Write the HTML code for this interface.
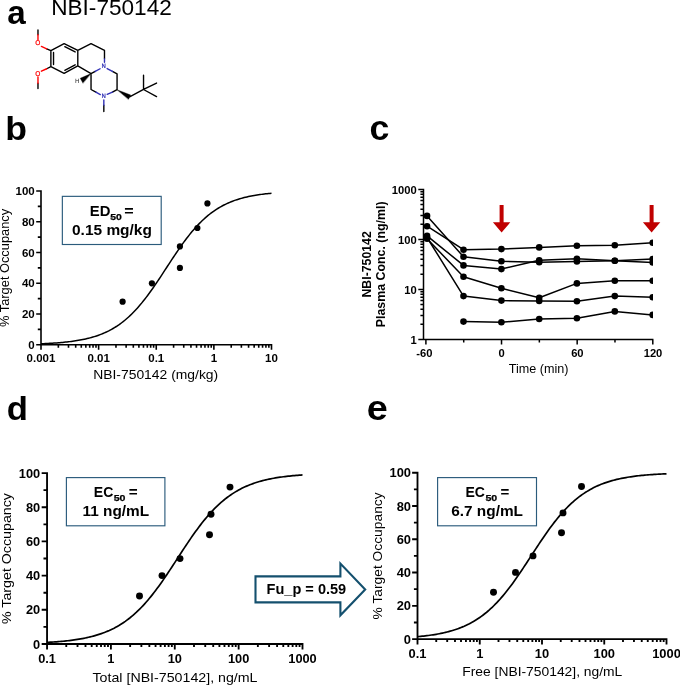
<!DOCTYPE html>
<html lang="en"><head><meta charset="utf-8"><title>NBI-750142 target occupancy</title>
<style>html,body{margin:0;padding:0;background:#fff}body{width:680px;height:685px;overflow:hidden}svg{display:block}</style>
</head><body>
<svg width="680" height="685" viewBox="0 0 680 685" font-family="'Liberation Sans', Arial, sans-serif" fill="#000">
<rect width="680" height="685" fill="#fff"/>
<text transform="translate(7.25 23.8) scale(1.0 1)" font-weight="bold" font-size="33.2">a</text>
<text transform="translate(5.2 140.05) scale(1.06 1)" font-weight="bold" font-size="33.6">b</text>
<text transform="translate(369.4 139.6) scale(1.02 1)" font-weight="bold" font-size="35">c</text>
<text transform="translate(6.7 419.8) scale(1.02 1)" font-weight="bold" font-size="34">d</text>
<text transform="translate(366.7 419.65) scale(1.09 1)" font-weight="bold" font-size="34.7">e</text>
<text x="51.2" y="15.3" font-size="22.6">NBI-750142</text>
<g transform="translate(20 20) scale(0.2206)" stroke-linecap="round" stroke-linejoin="round" fill="none" stroke-width="6.3">
<path d="M81.5 45V67 M81.5 287V311 M121 131L140 139L200 107L262 138V208L200 242L140 211L121 221 M140 139V211 M152 147V202 M203 121L250 145 M203 228L250 203 M262 138L322 107L383 138V176 M262 208L322 243L341 233 M322 243V315L344 327 M419 327L440 316V244L419 233 M380 386V415 M497 348L560 315 M560 315V250 M560 315L619 286 M560 315L619 347" stroke="#000"/>
<path d="M97 120L121 131 M97 232L121 221 M81.5 67V90 M81.5 258V287" stroke="#f00"/>
<path d="M341 233L363 221 M395 220L419 233 M395 337L419 327 M364 338L344 327 M383 176V192 M380 362V386" stroke="#2f2fb5"/>
<path d="M440 316L502 340L492 359Z" fill="#000" stroke="#000" stroke-width="1.5"/>
<path d="M322 243L273 264L285 286Z" fill="#000" stroke="#000" stroke-width="1.5"/>
</g>
<g font-size="5.9" text-anchor="middle" font-family="'DejaVu Sans', sans-serif">
<text x="37.9" y="45.3" fill="#f00" stroke="#f00" stroke-width="0.2" font-size="6.5">O</text>
<text x="37.9" y="75.7" fill="#f00" stroke="#f00" stroke-width="0.2" font-size="6.5">O</text>
<text x="103.6" y="68.2" fill="#2f2fb5" stroke="#2f2fb5" stroke-width="0.2">N</text>
<text x="103.6" y="98" fill="#2f2fb5" stroke="#2f2fb5" stroke-width="0.2">N</text>
<text x="77.3" y="82.9" font-size="5.8" fill="#222">H</text>
</g>
<path d="M41 343.78L42.44 343.72L43.88 343.66L45.32 343.59L46.76 343.52L48.2 343.44L49.64 343.37L51.08 343.28L52.53 343.19L53.97 343.1L55.41 343L56.85 342.89L58.29 342.78L59.73 342.66L61.17 342.54L62.61 342.41L64.05 342.27L65.49 342.12L66.93 341.96L68.37 341.8L69.81 341.62L71.25 341.44L72.69 341.25L74.13 341.04L75.58 340.82L77.02 340.59L78.46 340.35L79.9 340.1L81.34 339.83L82.78 339.54L84.22 339.24L85.66 338.93L87.1 338.59L88.54 338.24L89.98 337.87L91.42 337.48L92.86 337.07L94.3 336.63L95.74 336.17L97.18 335.69L98.62 335.19L100.07 334.66L101.51 334.1L102.95 333.51L104.39 332.89L105.83 332.24L107.27 331.56L108.71 330.85L110.15 330.1L111.59 329.32L113.03 328.5L114.47 327.64L115.91 326.74L117.35 325.81L118.79 324.83L120.23 323.8L121.67 322.74L123.12 321.63L124.56 320.47L126 319.27L127.44 318.02L128.88 316.72L130.32 315.38L131.76 313.99L133.2 312.54L134.64 311.05L136.08 309.51L137.52 307.92L138.96 306.28L140.4 304.6L141.84 302.86L143.28 301.08L144.73 299.26L146.17 297.39L147.61 295.49L149.05 293.54L150.49 291.55L151.93 289.53L153.37 287.48L154.81 285.39L156.25 283.28L157.69 281.14L159.13 278.99L160.57 276.81L162.01 274.62L163.45 272.42L164.89 270.21L166.33 268L167.78 265.78L169.22 263.57L170.66 261.37L172.1 259.18L173.54 257L174.98 254.84L176.42 252.71L177.86 250.59L179.3 248.5L180.74 246.45L182.18 244.42L183.62 242.43L185.06 240.48L186.5 238.57L187.94 236.7L189.38 234.87L190.83 233.09L192.27 231.35L193.71 229.66L195.15 228.02L196.59 226.43L198.03 224.88L199.47 223.39L200.91 221.94L202.35 220.54L203.79 219.19L205.23 217.89L206.67 216.64L208.11 215.43L209.55 214.27L210.99 213.16L212.43 212.09L213.88 211.06L215.32 210.08L216.76 209.14L218.2 208.24L219.64 207.37L221.08 206.55L222.52 205.76L223.96 205.01L225.4 204.3L226.84 203.61L228.28 202.96L229.72 202.34L231.16 201.75L232.6 201.19L234.04 200.66L235.48 200.15L236.92 199.67L238.37 199.21L239.81 198.77L241.25 198.36L242.69 197.96L244.13 197.59L245.57 197.24L247.01 196.9L248.45 196.58L249.89 196.28L251.33 196L252.77 195.73L254.21 195.47L255.65 195.23L257.09 195L258.53 194.78L259.98 194.57L261.42 194.38L262.86 194.19L264.3 194.02L265.74 193.85L267.18 193.69L268.62 193.55L270.06 193.41L271.5 193.27" stroke="#000" stroke-width="1.5" fill="none" stroke-linejoin="round"/>
<path d="M41 190.2V345.6M40.2 344.8H272.3M41 344.8h-4.8M41 329.42h-3.2M41 314.04h-4.8M41 298.66h-3.2M41 283.28h-4.8M41 267.9h-3.2M41 252.52h-4.8M41 237.14h-3.2M41 221.76h-4.8M41 206.38h-3.2M41 191h-4.8M41 344.8v4.9M58.35 344.8v2.9M68.49 344.8v2.9M75.69 344.8v2.9M81.28 344.8v2.9M85.84 344.8v2.9M89.7 344.8v2.9M93.04 344.8v2.9M95.99 344.8v2.9M98.62 344.8v4.9M115.97 344.8v2.9M126.12 344.8v2.9M133.32 344.8v2.9M138.9 344.8v2.9M143.47 344.8v2.9M147.32 344.8v2.9M150.67 344.8v2.9M153.61 344.8v2.9M156.25 344.8v4.9M173.6 344.8v2.9M183.74 344.8v2.9M190.94 344.8v2.9M196.53 344.8v2.9M201.09 344.8v2.9M204.95 344.8v2.9M208.29 344.8v2.9M211.24 344.8v2.9M213.88 344.8v4.9M231.22 344.8v2.9M241.37 344.8v2.9M248.57 344.8v2.9M254.15 344.8v2.9M258.72 344.8v2.9M262.57 344.8v2.9M265.92 344.8v2.9M268.86 344.8v2.9M271.5 344.8v4.9" stroke="#000" stroke-width="1.6" fill="none"/>
<g font-weight="bold" font-size="11.5">
<text transform="translate(34.7 348.92) scale(1.0 1)" text-anchor="end">0</text>
<text transform="translate(34.7 318.16) scale(1.0 1)" text-anchor="end">20</text>
<text transform="translate(34.7 287.4) scale(1.0 1)" text-anchor="end">40</text>
<text transform="translate(34.7 256.64) scale(1.0 1)" text-anchor="end">60</text>
<text transform="translate(34.7 225.88) scale(1.0 1)" text-anchor="end">80</text>
<text transform="translate(34.7 195.12) scale(1.0 1)" text-anchor="end">100</text>
<text transform="translate(41 361.9) scale(1.0 1)" text-anchor="middle">0.001</text>
<text transform="translate(98.62 361.9) scale(1.0 1)" text-anchor="middle">0.01</text>
<text transform="translate(156.25 361.9) scale(1.0 1)" text-anchor="middle">0.1</text>
<text transform="translate(213.88 361.9) scale(1.0 1)" text-anchor="middle">1</text>
<text transform="translate(271.5 361.9) scale(1.0 1)" text-anchor="middle">10</text>
</g>
<text x="155.7" y="379.3" text-anchor="middle" font-size="13.6" textLength="125" lengthAdjust="spacingAndGlyphs">NBI-750142 (mg/kg)</text>
<text transform="translate(9.4 267.9) rotate(-90)" text-anchor="middle" font-size="12.6" textLength="118" lengthAdjust="spacingAndGlyphs">% Target Occupancy</text>
<circle cx="122.6" cy="301.7" r="3.1"/>
<circle cx="151.9" cy="283.3" r="3.1"/>
<circle cx="179.9" cy="246.4" r="3.1"/>
<circle cx="179.9" cy="267.9" r="3.1"/>
<circle cx="197.4" cy="228" r="3.1"/>
<circle cx="207.4" cy="203.4" r="3.1"/>
<rect x="62.35" y="196.35" width="98.85" height="48.15" fill="#fff" stroke="#2b5b7c" stroke-width="1.15"/>
<g font-weight="bold" font-size="14.5" lengthAdjust="spacingAndGlyphs">
<text x="89.8" y="215.7" textLength="20.6" lengthAdjust="spacingAndGlyphs">ED</text>
<text x="110.2" y="219.5" textLength="11.6" lengthAdjust="spacingAndGlyphs" font-size="9.6" stroke="#000" stroke-width="0.25">50</text>
<text x="124.3" y="215.7" textLength="9.4" lengthAdjust="spacingAndGlyphs">=</text>
<text x="72" y="234.8" textLength="79.9" lengthAdjust="spacingAndGlyphs">0.15 mg/kg</text>
</g>
<path d="M47.05 642.41L48.65 642.32L50.24 642.22L51.84 642.12L53.44 642.02L55.03 641.9L56.63 641.78L58.23 641.66L59.82 641.52L61.42 641.38L63.02 641.23L64.61 641.07L66.21 640.91L67.81 640.73L69.4 640.54L71 640.34L72.59 640.14L74.19 639.92L75.79 639.68L77.38 639.44L78.98 639.18L80.58 638.9L82.17 638.61L83.77 638.31L85.37 637.98L86.96 637.64L88.56 637.28L90.16 636.9L91.75 636.5L93.35 636.08L94.95 635.64L96.54 635.17L98.14 634.68L99.74 634.16L101.33 633.62L102.93 633.05L104.53 632.44L106.12 631.81L107.72 631.14L109.32 630.45L110.91 629.71L112.51 628.94L114.11 628.14L115.7 627.29L117.3 626.4L118.9 625.48L120.49 624.51L122.09 623.49L123.68 622.43L125.28 621.33L126.88 620.17L128.47 618.97L130.07 617.72L131.67 616.41L133.26 615.06L134.86 613.65L136.46 612.19L138.05 610.67L139.65 609.1L141.25 607.48L142.84 605.8L144.44 604.07L146.04 602.28L147.63 600.44L149.23 598.55L150.83 596.6L152.42 594.61L154.02 592.56L155.62 590.47L157.21 588.34L158.81 586.15L160.41 583.93L162 581.67L163.6 579.38L165.2 577.05L166.79 574.69L168.39 572.31L169.99 569.9L171.58 567.48L173.18 565.04L174.77 562.59L176.37 560.14L177.97 557.68L179.56 555.22L181.16 552.77L182.76 550.33L184.35 547.9L185.95 545.49L187.55 543.1L189.14 540.73L190.74 538.39L192.34 536.09L193.93 533.82L195.53 531.58L197.13 529.39L198.72 527.24L200.32 525.13L201.92 523.07L203.51 521.06L205.11 519.1L206.71 517.19L208.3 515.34L209.9 513.53L211.5 511.78L213.09 510.09L214.69 508.45L216.29 506.86L217.88 505.33L219.48 503.85L221.08 502.42L222.67 501.05L224.27 499.73L225.86 498.46L227.46 497.25L229.06 496.08L230.65 494.96L232.25 493.88L233.85 492.85L235.44 491.87L237.04 490.93L238.64 490.03L240.23 489.17L241.83 488.35L243.43 487.57L245.02 486.83L246.62 486.12L248.22 485.44L249.81 484.8L251.41 484.19L253.01 483.61L254.6 483.05L256.2 482.53L257.8 482.03L259.39 481.55L260.99 481.1L262.59 480.67L264.18 480.27L265.78 479.88L267.38 479.52L268.97 479.17L270.57 478.84L272.17 478.53L273.76 478.24L275.36 477.96L276.95 477.69L278.55 477.44L280.15 477.21L281.74 476.98L283.34 476.77L284.94 476.57L286.53 476.38L288.13 476.2L289.73 476.03L291.32 475.87L292.92 475.71L294.52 475.57L296.11 475.43L297.71 475.3L299.31 475.18L300.9 475.07L302.5 474.96" stroke="#000" stroke-width="1.7" fill="none" stroke-linejoin="round"/>
<path d="M47.05 472.18V644.88M46.12 643.95H303.43M47.05 643.95h-5.38M47.05 626.87h-3.58M47.05 609.78h-5.38M47.05 592.7h-3.58M47.05 575.61h-5.38M47.05 558.53h-3.58M47.05 541.44h-5.38M47.05 524.36h-3.58M47.05 507.27h-5.38M47.05 490.19h-3.58M47.05 473.1h-5.38M47.05 643.95v5.49M66.27 643.95v2.99M77.52 643.95v2.99M85.5 643.95v2.99M91.69 643.95v2.99M96.74 643.95v2.99M101.02 643.95v2.99M104.72 643.95v2.99M107.99 643.95v2.99M110.91 643.95v5.49M130.14 643.95v2.99M141.38 643.95v2.99M149.36 643.95v2.99M155.55 643.95v2.99M160.61 643.95v2.99M164.88 643.95v2.99M168.59 643.95v2.99M171.85 643.95v2.99M174.77 643.95v5.49M194 643.95v2.99M205.25 643.95v2.99M213.22 643.95v2.99M219.41 643.95v2.99M224.47 643.95v2.99M228.75 643.95v2.99M232.45 643.95v2.99M235.72 643.95v2.99M238.64 643.95v5.49M257.86 643.95v2.99M269.11 643.95v2.99M277.09 643.95v2.99M283.28 643.95v2.99M288.33 643.95v2.99M292.61 643.95v2.99M296.31 643.95v2.99M299.58 643.95v2.99M302.5 643.95v5.49" stroke="#000" stroke-width="1.85" fill="none"/>
<g font-weight="bold" font-size="12.8">
<text transform="translate(40.2 648.53) scale(1.0 1)" text-anchor="end">0</text>
<text transform="translate(40.2 614.36) scale(1.0 1)" text-anchor="end">20</text>
<text transform="translate(40.2 580.19) scale(1.0 1)" text-anchor="end">40</text>
<text transform="translate(40.2 546.02) scale(1.0 1)" text-anchor="end">60</text>
<text transform="translate(40.2 511.85) scale(1.0 1)" text-anchor="end">80</text>
<text transform="translate(40.2 477.68) scale(1.0 1)" text-anchor="end">100</text>
<text transform="translate(47.05 662.7) scale(1.0 1)" text-anchor="middle">0.1</text>
<text transform="translate(110.91 662.7) scale(1.0 1)" text-anchor="middle">1</text>
<text transform="translate(174.77 662.7) scale(1.0 1)" text-anchor="middle">10</text>
<text transform="translate(238.64 662.7) scale(1.0 1)" text-anchor="middle">100</text>
<text transform="translate(302.5 662.7) scale(1.0 1)" text-anchor="middle">1000</text>
</g>
<text x="175" y="681.5" text-anchor="middle" font-size="13.5" textLength="165" lengthAdjust="spacingAndGlyphs">Total [NBI-750142], ng/mL</text>
<text transform="translate(10.7 558.53) rotate(-90)" text-anchor="middle" font-size="13.5" textLength="131" lengthAdjust="spacingAndGlyphs">% Target Occupancy</text>
<circle cx="139.5" cy="596" r="3.47"/>
<circle cx="162" cy="575.6" r="3.47"/>
<circle cx="180" cy="558.6" r="3.47"/>
<circle cx="209.5" cy="534.8" r="3.47"/>
<circle cx="211" cy="514.3" r="3.47"/>
<circle cx="230" cy="487.1" r="3.47"/>
<rect x="66.4" y="477.6" width="98.5" height="48.2" fill="#fff" stroke="#2b5b7c" stroke-width="1.15"/>
<g font-weight="bold" font-size="14.5" lengthAdjust="spacingAndGlyphs">
<text x="93.8" y="496.7" textLength="19.5" lengthAdjust="spacingAndGlyphs">EC</text>
<text x="113.7" y="500.5" textLength="11.8" lengthAdjust="spacingAndGlyphs" font-size="9.6" stroke="#000" stroke-width="0.25">50</text>
<text x="128.7" y="496.7" textLength="8.9" lengthAdjust="spacingAndGlyphs">=</text>
<text x="82.5" y="515.7" textLength="66.6" lengthAdjust="spacingAndGlyphs">11 ng/mL</text>
</g>
<path d="M417.5 636.65L419.06 636.51L420.61 636.36L422.17 636.2L423.73 636.03L425.28 635.85L426.84 635.66L428.39 635.47L429.95 635.25L431.51 635.03L433.06 634.8L434.62 634.55L436.18 634.29L437.73 634.01L439.29 633.72L440.84 633.41L442.4 633.09L443.96 632.74L445.51 632.38L447.07 632L448.62 631.6L450.18 631.18L451.74 630.73L453.29 630.26L454.85 629.77L456.41 629.25L457.96 628.7L459.52 628.12L461.07 627.52L462.63 626.88L464.19 626.22L465.74 625.51L467.3 624.78L468.86 624.01L470.41 623.2L471.97 622.35L473.52 621.46L475.08 620.53L476.64 619.56L478.19 618.55L479.75 617.49L481.31 616.38L482.86 615.23L484.42 614.03L485.98 612.78L487.53 611.48L489.09 610.13L490.64 608.72L492.2 607.27L493.76 605.76L495.31 604.2L496.87 602.58L498.43 600.92L499.98 599.2L501.54 597.42L503.09 595.6L504.65 593.73L506.21 591.8L507.76 589.83L509.32 587.81L510.88 585.74L512.43 583.64L513.99 581.49L515.54 579.3L517.1 577.08L518.66 574.82L520.21 572.54L521.77 570.23L523.33 567.89L524.88 565.54L526.44 563.17L527.99 560.79L529.55 558.4L531.11 556L532.66 553.61L534.22 551.22L535.77 548.84L537.33 546.46L538.89 544.11L540.44 541.77L542 539.46L543.56 537.17L545.11 534.91L546.67 532.69L548.23 530.5L549.78 528.35L551.34 526.23L552.89 524.17L554.45 522.14L556.01 520.17L557.56 518.24L559.12 516.36L560.67 514.53L562.23 512.75L563.79 511.03L565.34 509.36L566.9 507.74L568.46 506.17L570.01 504.66L571.57 503.2L573.12 501.79L574.68 500.44L576.24 499.13L577.79 497.88L579.35 496.67L580.91 495.51L582.46 494.4L584.02 493.34L585.58 492.32L587.13 491.35L588.69 490.42L590.24 489.52L591.8 488.67L593.36 487.86L594.91 487.09L596.47 486.35L598.02 485.64L599.58 484.97L601.14 484.33L602.69 483.73L604.25 483.15L605.81 482.6L607.36 482.08L608.92 481.58L610.48 481.11L612.03 480.66L613.59 480.24L615.14 479.83L616.7 479.45L618.26 479.09L619.81 478.74L621.37 478.42L622.92 478.11L624.48 477.81L626.04 477.54L627.59 477.27L629.15 477.02L630.71 476.79L632.26 476.56L633.82 476.35L635.38 476.15L636.93 475.96L638.49 475.78L640.04 475.61L641.6 475.45L643.16 475.3L644.71 475.16L646.27 475.02L647.83 474.9L649.38 474.77L650.94 474.66L652.49 474.55L654.05 474.45L655.61 474.35L657.16 474.26L658.72 474.17L660.27 474.09L661.83 474.01L663.39 473.94L664.94 473.87L666.5 473.81" stroke="#000" stroke-width="1.7" fill="none" stroke-linejoin="round"/>
<path d="M417.5 471.77V640.02M416.57 639.1H667.42M417.5 639.1h-5.38M417.5 622.46h-3.58M417.5 605.82h-5.38M417.5 589.18h-3.58M417.5 572.54h-5.38M417.5 555.9h-3.58M417.5 539.26h-5.38M417.5 522.62h-3.58M417.5 505.98h-5.38M417.5 489.34h-3.58M417.5 472.7h-5.38M417.5 639.1v5.49M436.24 639.1v2.99M447.2 639.1v2.99M454.98 639.1v2.99M461.01 639.1v2.99M465.94 639.1v2.99M470.11 639.1v2.99M473.72 639.1v2.99M476.9 639.1v2.99M479.75 639.1v5.49M498.49 639.1v2.99M509.45 639.1v2.99M517.23 639.1v2.99M523.26 639.1v2.99M528.19 639.1v2.99M532.36 639.1v2.99M535.97 639.1v2.99M539.15 639.1v2.99M542 639.1v5.49M560.74 639.1v2.99M571.7 639.1v2.99M579.48 639.1v2.99M585.51 639.1v2.99M590.44 639.1v2.99M594.61 639.1v2.99M598.22 639.1v2.99M601.4 639.1v2.99M604.25 639.1v5.49M622.99 639.1v2.99M633.95 639.1v2.99M641.73 639.1v2.99M647.76 639.1v2.99M652.69 639.1v2.99M656.86 639.1v2.99M660.47 639.1v2.99M663.65 639.1v2.99M666.5 639.1v5.49" stroke="#000" stroke-width="1.85" fill="none"/>
<g font-weight="bold" font-size="12.9">
<text transform="translate(411 643.72) scale(1.0 1)" text-anchor="end">0</text>
<text transform="translate(411 610.44) scale(1.0 1)" text-anchor="end">20</text>
<text transform="translate(411 577.16) scale(1.0 1)" text-anchor="end">40</text>
<text transform="translate(411 543.88) scale(1.0 1)" text-anchor="end">60</text>
<text transform="translate(411 510.6) scale(1.0 1)" text-anchor="end">80</text>
<text transform="translate(411 477.32) scale(1.0 1)" text-anchor="end">100</text>
<text transform="translate(417.5 657.6) scale(1.0 1)" text-anchor="middle">0.1</text>
<text transform="translate(479.75 657.6) scale(1.0 1)" text-anchor="middle">1</text>
<text transform="translate(542 657.6) scale(1.0 1)" text-anchor="middle">10</text>
<text transform="translate(604.25 657.6) scale(1.0 1)" text-anchor="middle">100</text>
<text transform="translate(666.5 657.6) scale(1.0 1)" text-anchor="middle">1000</text>
</g>
<text x="542.3" y="675.5" text-anchor="middle" font-size="13.3" textLength="160" lengthAdjust="spacingAndGlyphs">Free [NBI-750142], ng/mL</text>
<text transform="translate(382.4 555.9) rotate(-90)" text-anchor="middle" font-size="13" textLength="127" lengthAdjust="spacingAndGlyphs">% Target Occupancy</text>
<circle cx="493.5" cy="592.2" r="3.47"/>
<circle cx="515.5" cy="572.4" r="3.47"/>
<circle cx="533" cy="555.9" r="3.47"/>
<circle cx="561.5" cy="532.7" r="3.47"/>
<circle cx="563" cy="512.9" r="3.47"/>
<circle cx="581.5" cy="486.5" r="3.47"/>
<rect x="437.6" y="477.6" width="98.9" height="48.2" fill="#fff" stroke="#2b5b7c" stroke-width="1.15"/>
<g font-weight="bold" font-size="14.5" lengthAdjust="spacingAndGlyphs">
<text x="465.5" y="496.7" textLength="19.5" lengthAdjust="spacingAndGlyphs">EC</text>
<text x="485.4" y="500.5" textLength="11.8" lengthAdjust="spacingAndGlyphs" font-size="9.6" stroke="#000" stroke-width="0.25">50</text>
<text x="500.4" y="496.7" textLength="8.8" lengthAdjust="spacingAndGlyphs">=</text>
<text x="451.2" y="515.7" textLength="71.8" lengthAdjust="spacingAndGlyphs">6.7 ng/mL</text>
</g>
<path d="M255.5 576.4H340.4V563.5L365.2 589.4L340.4 615.3V602.4H255.5Z" fill="#fff" stroke="#14506e" stroke-width="2.1" stroke-linejoin="miter"/>
<text x="306.4" y="593.8" font-weight="bold" font-size="14.5" text-anchor="middle" textLength="79.6" lengthAdjust="spacingAndGlyphs">Fu_p = 0.59</text>
<path d="M423.5 188.75V340.05M422.85 339.4H653.45M423.5 339.4h-5.2M423.5 324.35h-3.1M423.5 315.54h-3.1M423.5 309.3h-3.1M423.5 304.45h-3.1M423.5 300.49h-3.1M423.5 297.15h-3.1M423.5 294.25h-3.1M423.5 291.69h-3.1M423.5 289.4h-5.2M423.5 274.35h-3.1M423.5 265.54h-3.1M423.5 259.3h-3.1M423.5 254.45h-3.1M423.5 250.49h-3.1M423.5 247.15h-3.1M423.5 244.25h-3.1M423.5 241.69h-3.1M423.5 239.4h-5.2M423.5 224.35h-3.1M423.5 215.54h-3.1M423.5 209.3h-3.1M423.5 204.45h-3.1M423.5 200.49h-3.1M423.5 197.15h-3.1M423.5 194.25h-3.1M423.5 191.69h-3.1M423.5 189.4h-5.2M425.9 339.4v5.2M463.72 339.4v3.2M501.53 339.4v5.2M539.35 339.4v3.2M577.17 339.4v5.2M614.98 339.4v3.2M652.8 339.4v5.2" stroke="#000" stroke-width="1.5" fill="none"/>
<g font-weight="bold" font-size="11.2">
<text x="416.7" y="343.8" text-anchor="end">1</text>
<text x="416.7" y="293.8" text-anchor="end">10</text>
<text x="416.7" y="243.8" text-anchor="end">100</text>
<text x="416.7" y="193.8" text-anchor="end">1000</text>
<text x="424.4" y="357.0" text-anchor="middle">-60</text>
<text x="501.73" y="357.0" text-anchor="middle">0</text>
<text x="577.37" y="357.0" text-anchor="middle">60</text>
<text x="653" y="357.0" text-anchor="middle">120</text>
</g>
<text x="538.7" y="373.2" text-anchor="middle" font-size="12.6">Time (min)</text>
<g font-weight="bold" font-size="12.3" text-anchor="middle">
<text transform="translate(370.9 264.4) rotate(-90)" textLength="66.3" lengthAdjust="spacingAndGlyphs">NBI-750142</text>
<text transform="translate(385.4 264.4) rotate(-90)" textLength="125.8" lengthAdjust="spacingAndGlyphs">Plasma Conc. (ng/ml)</text>
</g>
<clipPath id="cc"><rect x="420" y="180" width="233.0" height="170"/></clipPath>
<g clip-path="url(#cc)">
<path d="M427.06 226.2L463.5 249.7L501.4 249.1L539.2 247.4L576.9 245.7L614.8 245.3L652.7 242.8" stroke="#000" stroke-width="1.5" fill="none" stroke-linejoin="round"/>
<circle cx="427.06" cy="226.2" r="3.3"/>
<circle cx="463.5" cy="249.7" r="3.3"/>
<circle cx="501.4" cy="249.1" r="3.3"/>
<circle cx="539.2" cy="247.4" r="3.3"/>
<circle cx="576.9" cy="245.7" r="3.3"/>
<circle cx="614.8" cy="245.3" r="3.3"/>
<circle cx="652.7" cy="242.8" r="3.3"/>
<path d="M427.06 215.9L463.5 256.8L501.4 261.3L539.2 262.2L576.9 261.4L614.8 260.7L652.7 259.1" stroke="#000" stroke-width="1.5" fill="none" stroke-linejoin="round"/>
<circle cx="427.06" cy="215.9" r="3.3"/>
<circle cx="463.5" cy="256.8" r="3.3"/>
<circle cx="501.4" cy="261.3" r="3.3"/>
<circle cx="539.2" cy="262.2" r="3.3"/>
<circle cx="576.9" cy="261.4" r="3.3"/>
<circle cx="614.8" cy="260.7" r="3.3"/>
<circle cx="652.7" cy="259.1" r="3.3"/>
<path d="M427.06 235.8L463.5 265.4L501.4 269.1L539.2 260.3L576.9 258.7L614.8 260.7L652.7 262.4" stroke="#000" stroke-width="1.5" fill="none" stroke-linejoin="round"/>
<circle cx="427.06" cy="235.8" r="3.3"/>
<circle cx="463.5" cy="265.4" r="3.3"/>
<circle cx="501.4" cy="269.1" r="3.3"/>
<circle cx="539.2" cy="260.3" r="3.3"/>
<circle cx="576.9" cy="258.7" r="3.3"/>
<circle cx="614.8" cy="260.7" r="3.3"/>
<circle cx="652.7" cy="262.4" r="3.3"/>
<path d="M427.06 238.8L463.5 276.7L501.4 288.3L539.2 297.8L576.9 283.4L614.8 280.7L652.7 280.7" stroke="#000" stroke-width="1.5" fill="none" stroke-linejoin="round"/>
<circle cx="427.06" cy="238.8" r="3.3"/>
<circle cx="463.5" cy="276.7" r="3.3"/>
<circle cx="501.4" cy="288.3" r="3.3"/>
<circle cx="539.2" cy="297.8" r="3.3"/>
<circle cx="576.9" cy="283.4" r="3.3"/>
<circle cx="614.8" cy="280.7" r="3.3"/>
<circle cx="652.7" cy="280.7" r="3.3"/>
<path d="M427.06 237.5L463.5 296.1L501.4 300.6L539.2 300.9L576.9 301.3L614.8 296.1L652.7 297.2" stroke="#000" stroke-width="1.5" fill="none" stroke-linejoin="round"/>
<circle cx="427.06" cy="237.5" r="3.3"/>
<circle cx="463.5" cy="296.1" r="3.3"/>
<circle cx="501.4" cy="300.6" r="3.3"/>
<circle cx="539.2" cy="300.9" r="3.3"/>
<circle cx="576.9" cy="301.3" r="3.3"/>
<circle cx="614.8" cy="296.1" r="3.3"/>
<circle cx="652.7" cy="297.2" r="3.3"/>
<path d="M463.5 321.6L501.4 322.2L539.2 319L576.9 318.2L614.8 311.4L652.7 314.9" stroke="#000" stroke-width="1.5" fill="none" stroke-linejoin="round"/>
<circle cx="463.5" cy="321.6" r="3.3"/>
<circle cx="501.4" cy="322.2" r="3.3"/>
<circle cx="539.2" cy="319" r="3.3"/>
<circle cx="576.9" cy="318.2" r="3.3"/>
<circle cx="614.8" cy="311.4" r="3.3"/>
<circle cx="652.7" cy="314.9" r="3.3"/>
</g>
<path d="M499.6 205.1h4v17.2h6.7l-8.7 10.2l-8.7 -10.2h6.7z" fill="#c00000"/>
<path d="M649.6 205.1h4v17.2h6.7l-8.7 10.2l-8.7 -10.2h6.7z" fill="#c00000"/>
</svg>
</body></html>
